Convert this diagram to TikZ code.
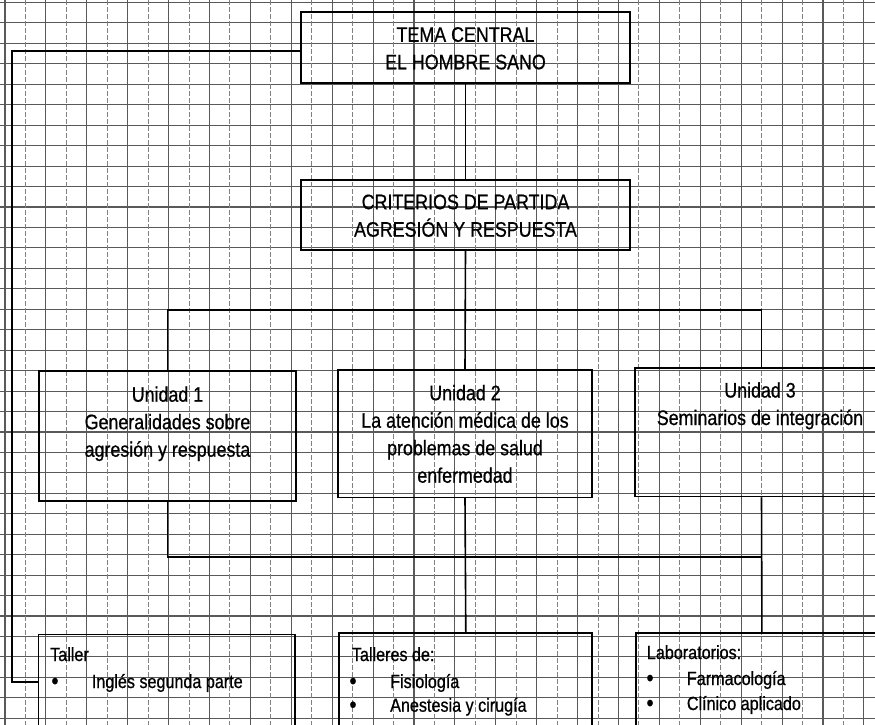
\documentclass[tikz,border=0pt]{standalone}
\usepackage{fontspec}
\setmainfont[FakeStretch=0.85,FakeBold=0.7]{Liberation Sans}
\begin{document}
\begin{tikzpicture}[x=1pt,y=-1pt,
  gridh/.style={black!65, line width=1.1pt},
  gridv/.style={black!65, line width=1.1pt},
  gridvd/.style={black!50, line width=1pt, dash pattern=on 5pt off 2pt},
  box/.style={draw=black, line width=1.7pt, inner sep=0pt, rectangle},
  conn/.style={draw=black, line width=1.6pt},
  big/.style={inner sep=0pt, align=center, font=\fontsize{21}{27.5}\selectfont},
  small/.style={inner sep=0pt, font=\fontsize{19}{24}\selectfont},
  bul/.style={inner sep=0pt, font=\fontsize{24}{24}\selectfont},
]
\useasboundingbox (0,0) rectangle (875,725);
\fill[white] (0,0) rectangle (875,725);
\begin{scope}
\clip (0,0) rectangle (875,725);
% graph paper
\foreach \k in {0,...,35} \draw[gridh] (0,{2.5+20.45*\k}) -- (875,{2.5+20.45*\k});
\foreach \k in {0,2,...,42} \draw[gridv] ({5+20.45*\k},0) -- ({5+20.45*\k},725);
\foreach \k in {1,3,...,41} \draw[gridvd] ({5+20.45*\k},0) -- ({5+20.45*\k},725);

% boxes
\node[box, minimum width=329pt, minimum height=71pt] (b1) at (465.5,47.5) {};
\node[box, minimum width=329pt, minimum height=70pt] (b2) at (465.5,215) {};
\node[box, minimum width=256.4pt, minimum height=129.7pt] (u1) at (167.5,435.8) {};
\node[box, minimum width=253.4pt, minimum height=127.3pt] (u2) at (465,433.7) {};
\node[box, minimum width=253pt, minimum height=128.5pt] (u3) at (761.5,432.2) {};
\node[box, minimum width=256.7pt, minimum height=95.7pt] (t1) at (166.7,682.2) {};
\node[box, minimum width=253pt, minimum height=97.3pt] (t2) at (465.8,681.4) {};
\node[box, minimum width=252.3pt, minimum height=97pt] (t3) at (761.9,681.5) {};

% texts (base anchor = baseline of the last line)
\node[big, anchor=base] (b1t) at (465.5,69.3) {TEMA CENTRAL\\EL HOMBRE SANO};
\node[big, anchor=base] (b2t) at (465.5,236.7) {CRITERIOS DE PARTIDA\\AGRESIÓN Y RESPUESTA};
\node[big, anchor=base] (u1t) at (167.5,456.7) {Unidad 1\\Generalidades sobre\\agresión y respuesta};
\node[big, anchor=base] (u2t) at (465,482.7) {Unidad 2\\La atención médica de los\\problemas de salud\\enfermedad};
\node[big, anchor=base] (u3t) at (760,425) {Unidad 3\\Seminarios de integración};

\node[small, anchor=base west] (t1a) at (50,661) {Taller};
\node[bul, anchor=base] (t1b) at (55,689) {•};
\node[small, anchor=base west] (t1c) at (91.7,688) {Inglés segunda parte};

\node[small, anchor=base west] (t2a) at (351.7,661) {Talleres de:};
\node[bul, anchor=base] (t2b) at (353,689) {•};
\node[small, anchor=base west] (t2c) at (390,688) {Fisiología};
\node[bul, anchor=base] (t2d) at (353,712.7) {•};
\node[small, anchor=base west] (t2e) at (390,711.7) {Anestesia y cirugía};

\node[small, anchor=base west] (t3a) at (646.7,659) {Laboratorios:};
\node[bul, anchor=base] (t3b) at (650,686) {•};
\node[small, anchor=base west] (t3c) at (686.7,685) {Farmacología};
\node[bul, anchor=base] (t3d) at (650,711) {•};
\node[small, anchor=base west] (t3e) at (686.7,710) {Clínico aplicado};

% connectors
\coordinate (lc) at (12,51);
\coordinate (j1) at (465,310);
\coordinate (j2) at (465,557);
\draw[conn] (b1.west |- lc) -- (lc) |- (t1.west);
\draw[conn] (b1.south) -- (b2.north);
\draw[conn] (b2.south) -- (u2.north);
\draw[conn] (u1.north) -- (u1.north |- j1) -- (u3.north |- j1) -- (u3.north);
\draw[conn] (u1.south) -- (u1.south |- j2) -- (u3.south |- j2);
\draw[conn] (u3.south) -- (t3.north);
\draw[conn] (u2.south) -- (t2.north);
\end{scope}
\end{tikzpicture}
\end{document}
